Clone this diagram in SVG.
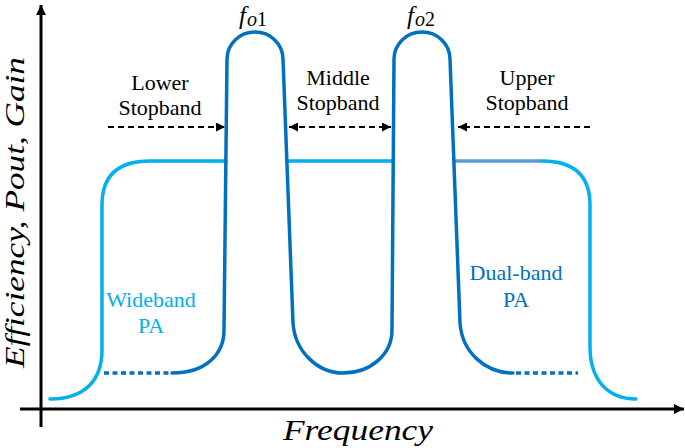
<svg xmlns="http://www.w3.org/2000/svg" width="685" height="448" viewBox="0 0 685 448">
<style>
.lbl{font-family:'Liberation Serif','DejaVu Serif',serif;font-size:22px;text-anchor:middle}
.math{font-family:'Liberation Serif','DejaVu Serif',serif;font-style:italic}
.wide{fill:none;stroke:#00B0F0;stroke-width:3.5;stroke-linecap:round;stroke-linejoin:round}
.dual{fill:none;stroke:#0070C0;stroke-width:3.5;stroke-linecap:round;stroke-linejoin:round}
.dash{fill:none;stroke:#000;stroke-width:2;stroke-dasharray:6 4}
.dot{fill:none;stroke:#0A6FC2;stroke-width:3.5;stroke-dasharray:5 3.5}
</style>
<defs>
<marker id="ah" viewBox="0 0 10 10" refX="10" refY="5" markerWidth="10" markerHeight="9" markerUnits="userSpaceOnUse" orient="auto-start-reverse">
<path d="M0,0 L10,5 L0,10 Z" fill="#000"/>
</marker>
<marker id="axh" viewBox="0 0 10 10" refX="10" refY="5" markerWidth="11" markerHeight="10" markerUnits="userSpaceOnUse" orient="auto">
<path d="M0,0 L10,5 L0,10 Z" fill="#000"/>
</marker>
</defs>
<g id="axes">
<line x1="41" y1="427" x2="41" y2="5" stroke="#000" stroke-width="3" marker-end="url(#axh)"/>
<line x1="20" y1="409" x2="684" y2="409" stroke="#000" stroke-width="3" marker-end="url(#axh)"/>
<text class="math" font-size="27" transform="translate(24,368) rotate(-90)" textLength="311" lengthAdjust="spacingAndGlyphs">Efficiency, Pout, Gain</text>
<text class="math" font-size="29" x="283" y="440" textLength="150" lengthAdjust="spacingAndGlyphs">Frequency</text>
</g>
<g id="wideband">
<path class="wide" d="M50,399 C85,399 102,380 102,350 L102,205 Q102,161 150,161 L226,161"/>
<path class="wide" d="M288,161 L392,161"/>
<path fill="none" stroke="#5B9BD5" stroke-width="3.5" d="M455,161 L542,161"/>
<path class="wide" d="M542,161 Q590,161 590,205 L590,347 C590,380 608,399 636,399"/>
<text class="lbl" fill="#00B0F0" x="151" y="307">Wideband</text>
<text class="lbl" fill="#00B0F0" x="151" y="333">PA</text>
</g>
<g id="dualband">
<path class="dot" d="M104,373 L172,373"/>
<path class="dual" d="M172,373 C205,373 224,355 224,330 L227,59 A28,27 0 0 1 283,59 L293,323 C295,352 318,373 343,373 C370,373 392,355 392,330 L394,59 A28,27 0 0 1 450,59 L460,323 C462,352 485,373 513,373"/>
<path class="dot" d="M516,373 L578,373"/>
<text class="lbl" fill="#0070C0" x="516" y="280">Dual-band</text>
<text class="lbl" fill="#0070C0" x="516" y="307">PA</text>
</g>
<g id="f01">
<text class="math" x="239" y="24" font-size="25">f<tspan font-size="20" dy="2" dx="1">o</tspan><tspan font-size="20" font-style="normal">1</tspan></text>
</g>
<g id="f02">
<text class="math" x="407" y="24" font-size="25">f<tspan font-size="20" dy="2" dx="1">o</tspan><tspan font-size="20" font-style="normal">2</tspan></text>
</g>
<g id="lower">
<text class="lbl" x="160" y="90">Lower</text>
<text class="lbl" x="160" y="115">Stopband</text>
</g>
<g id="middle">
<text class="lbl" x="338" y="85">Middle</text>
<text class="lbl" x="338" y="110">Stopband</text>
</g>
<g id="upper">
<text class="lbl" x="527" y="85">Upper</text>
<text class="lbl" x="527" y="110">Stopband</text>
</g>
<g id="connectors">
<line class="dash" x1="108" y1="127" x2="225" y2="127" marker-end="url(#ah)"/>
<line class="dash" x1="289" y1="127" x2="391" y2="127" marker-start="url(#ah)" marker-end="url(#ah)"/>
<line class="dash" x1="590" y1="127" x2="458" y2="127" marker-end="url(#ah)"/>
</g>
</svg>
